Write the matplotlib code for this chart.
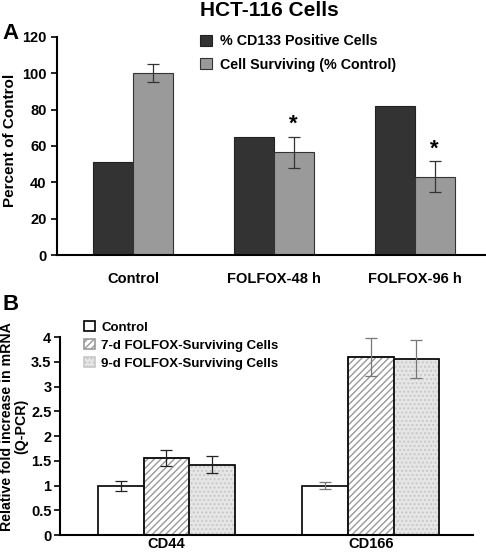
import numpy as np
import matplotlib.pyplot as plt

plt.rcParams['font.family'] = ['Liberation Sans', 'DejaVu Sans']
plt.rcParams['font.weight'] = 'bold'
plt.rcParams['hatch.linewidth'] = 1.0

# panel A data
groups_a = ['Control', 'FOLFOX-48 h', 'FOLFOX-96 h']
cd133_pos = [51, 65, 82]
surviving = [100, 56.5, 43]
surviving_err = [5, 8.5, 8.5]
star_flags = [False, True, True]

# panel B data
genes_b = ['CD44', 'CD166']
ctrl_fold = [1.0, 1.0]
ctrl_err = [0.1, 0.07]
d7_fold = [1.55, 3.6]
d7_err = [0.16, 0.38]
d9_fold = [1.42, 3.55]
d9_err = [0.17, 0.38]

fig = plt.figure(figsize=(4.86, 5.58), dpi=100)

# ---- panel A
axA = fig.add_axes([0.117, 0.543, 0.881, 0.391])
x = np.arange(len(groups_a))
w = 0.284
axA.bar(x - w / 2, cd133_pos, w, color='#333333', edgecolor='#222222', linewidth=0.8,
        label='% CD133 Positive Cells')
axA.bar(x + w / 2, surviving, w, color='#9a9a9a', edgecolor='#333333', linewidth=0.8,
        label='Cell Surviving (% Control)')
axA.errorbar(x + w / 2, surviving, yerr=surviving_err, fmt='none', ecolor='#333333',
             elinewidth=0.9, capsize=4, capthick=0.9)
for xi, v, e, s in zip(x, surviving, surviving_err, star_flags):
    if s:
        axA.text(xi + w / 2, v + e + 1, '*', ha='center', va='bottom', fontsize=16)
axA.set_xlim(-0.54, 2.5)
axA.set_ylim(0, 120)
axA.set_yticks(range(0, 121, 20))
axA.set_xticks(x)
axA.set_xticklabels(groups_a, fontsize=10.5)
axA.tick_params(axis='x', length=0, pad=12)
axA.tick_params(axis='y', labelsize=10.5, width=1.2, length=4)
for sp in ['top', 'right']:
    axA.spines[sp].set_visible(False)
for sp in ['left', 'bottom']:
    axA.spines[sp].set_linewidth(1.5)
fig.text(0.021, 0.749, 'Percent of Control', rotation=90, ha='center', va='center',
         fontsize=11)
axA.legend(loc='upper left', bbox_to_anchor=(0.305, 1.07), frameon=False, fontsize=10.3,
           handlelength=0.8, handleheight=0.8, handletextpad=0.55, labelspacing=0.65)
fig.text(0.555, 0.982, 'HCT-116 Cells', ha='center', va='center', fontsize=15)
fig.text(0.006, 0.94, 'A', ha='left', va='center', fontsize=16)

# ---- panel B
axB = fig.add_axes([0.123, 0.041, 0.85, 0.355])
xb = np.arange(len(genes_b))
wb = 0.223
axB.bar(xb - wb, ctrl_fold, wb, color='white', edgecolor='black', linewidth=1.2,
        label='Control')
axB.bar(xb, d7_fold, wb, color='white', edgecolor='#999999', hatch='/////', linewidth=1.2,
        label='7-d FOLFOX-Surviving Cells')
axB.bar(xb, d7_fold, wb, color='none', edgecolor='black', linewidth=1.2)
axB.bar(xb + wb, d9_fold, wb, color='#e6e6e6', edgecolor='#c8c8c8', hatch='....', linewidth=1.2,
        label='9-d FOLFOX-Surviving Cells')
axB.bar(xb + wb, d9_fold, wb, color='none', edgecolor='black', linewidth=1.2)
err_cols = ['#222222', '#777777']
for i in range(len(genes_b)):
    axB.errorbar([xb[i] - wb, xb[i], xb[i] + wb], [ctrl_fold[i], d7_fold[i], d9_fold[i]],
                 yerr=[ctrl_err[i], d7_err[i], d9_err[i]], fmt='none', ecolor=err_cols[i],
                 elinewidth=0.9, capsize=4, capthick=0.9)
axB.set_xlim(-0.522, 1.5)
axB.set_ylim(0, 4)
axB.set_yticks(np.arange(0, 4.01, 0.5))
axB.set_yticklabels(['0', '0.5', '1', '1.5', '2', '2.5', '3', '3.5', '4'])
axB.set_xticks(xb)
axB.set_xticklabels(genes_b, fontsize=10.5)
axB.tick_params(axis='x', length=0, pad=1)
axB.tick_params(axis='y', labelsize=10.5, width=1.2, length=4, pad=2)
for sp in ['top', 'right']:
    axB.spines[sp].set_visible(False)
for sp in ['left', 'bottom']:
    axB.spines[sp].set_linewidth(1.5)
fig.text(0.029, 0.236, 'Relative fold increase in mRNA\n(Q-PCR)', rotation=90,
         ha='center', va='center', fontsize=10.2, linespacing=1.0)
axB.legend(loc='upper left', bbox_to_anchor=(0.03, 1.14), frameon=False, fontsize=9.5,
           handlelength=0.8, handleheight=0.8, handletextpad=0.5, labelspacing=0.4)
fig.text(0.006, 0.455, 'B', ha='left', va='center', fontsize=16)

fig.savefig('out.png', dpi=100)
